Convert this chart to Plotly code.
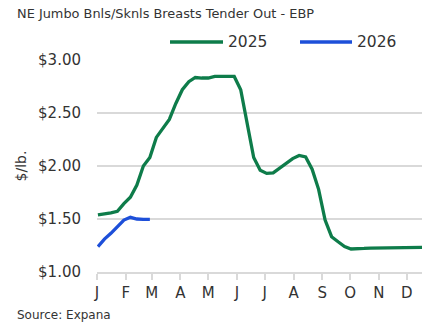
import plotly.graph_objects as go

# Weekly price observations (USD per lb), plotted on a common Jan–Dec calendar
weeks_2025 = [
    "2025-01-02", "2025-01-09", "2025-01-16", "2025-01-23", "2025-01-30",
    "2025-02-06", "2025-02-13", "2025-02-20", "2025-02-27", "2025-03-06",
    "2025-03-13", "2025-03-20", "2025-03-27", "2025-04-03", "2025-04-10",
    "2025-04-17", "2025-04-24", "2025-05-01", "2025-05-08", "2025-05-15",
    "2025-05-22", "2025-05-29", "2025-06-05", "2025-06-12", "2025-06-19",
    "2025-06-26", "2025-07-03", "2025-07-10", "2025-07-17", "2025-07-24",
    "2025-07-31", "2025-08-07", "2025-08-14", "2025-08-21", "2025-08-28",
    "2025-09-04", "2025-09-11", "2025-09-18", "2025-09-25", "2025-10-02",
    "2025-10-09", "2025-10-16", "2025-10-23", "2025-10-30", "2025-11-06",
    "2025-11-13", "2025-11-20", "2025-11-27", "2025-12-04", "2025-12-11",
    "2025-12-18",
]
price_2025 = [
    1.538, 1.546, 1.558, 1.572, 1.645, 1.705, 1.820, 2.000, 2.080, 2.270,
    2.350, 2.440, 2.590, 2.720, 2.795, 2.835, 2.830, 2.830, 2.845, 2.845,
    2.845, 2.845, 2.720, 2.410, 2.080, 1.960, 1.930, 1.935, 1.980, 2.020,
    2.070, 2.100, 2.085, 1.970, 1.780, 1.490, 1.333, 1.285, 1.240, 1.217,
    1.217, 1.222, 1.226, 1.226, 1.226, 1.226, 1.226, 1.230, 1.233, 1.233,
    1.233,
]

weeks_2026 = [
    "2025-01-02", "2025-01-09", "2025-01-16", "2025-01-23", "2025-01-30",
    "2025-02-06", "2025-02-13", "2025-02-20", "2025-02-27",
]
price_2026 = [1.239, 1.310, 1.365, 1.425, 1.490, 1.516, 1.500, 1.497, 1.497]

month_starts = [f"2025-{m:02d}-01" for m in range(1, 13)]
month_labels = ["J", "F", "M", "A", "M", "J", "J", "A", "S", "O", "N", "D"]
y_ticks = [1.0, 1.5, 2.0, 2.5, 3.0]
y_labels = ["$1.00", "$1.50", "$2.00", "$2.50", "$3.00"]

GREEN = "#0e7c4a"
BLUE = "#1d4fd9"
TEXT = "#333333"
GRID = "#d9d9d9"
FONT = "DejaVu Sans, sans-serif"

fig = go.Figure()
fig.add_trace(go.Scatter(x=weeks_2025, y=price_2025, mode="lines", name="2025",
                         line=dict(color=GREEN, width=3.3)))
fig.add_trace(go.Scatter(x=weeks_2026, y=price_2026, mode="lines", name="2026",
                         line=dict(color=BLUE, width=3.3)))

# Legend drawn as line samples with labels above the plot
for x0, x1, color, label in [(170, 223, GREEN, "2025"), (300, 352, BLUE, "2026")]:
    fig.add_shape(type="line", xref="paper", yref="paper",
                  x0=(x0 - 97) / 325, x1=(x1 - 97) / 325,
                  y0=(272 - 42) / 212, y1=(272 - 42) / 212,
                  line=dict(color=color, width=3.3))
    fig.add_annotation(text=label, xref="paper", yref="paper",
                       x=(x1 + 3 - 97) / 325, y=(272 - 42) / 212,
                       xanchor="left", yanchor="middle", showarrow=False,
                       font=dict(size=15.5, color=TEXT, family=FONT))

fig.add_annotation(text="NE Jumbo Bnls/Sknls Breasts Tender Out - EBP",
                   xref="paper", yref="paper", x=(15 - 97) / 325,
                   y=(272 - 14) / 212, xanchor="left", yanchor="middle",
                   showarrow=False, font=dict(size=12.9, color=TEXT, family=FONT))
fig.add_annotation(text="Source: Expana", xref="paper", yref="paper",
                   x=(15 - 97) / 325, y=(272 - 315) / 212,
                   xanchor="left", yanchor="middle", showarrow=False,
                   font=dict(size=12, color=TEXT, family=FONT))

fig.update_layout(
    width=425, height=327,
    margin=dict(l=97, r=3, t=60, b=55),
    paper_bgcolor="white", plot_bgcolor="white",
    showlegend=False,
    font=dict(family=FONT, color=TEXT),
    xaxis=dict(
        type="date", range=["2025-01-01", "2025-12-17 12:00"],
        tickvals=month_starts, ticktext=month_labels,
        showgrid=False, showline=True, linecolor=GRID, linewidth=1.5,
        ticks="outside", ticklen=6, tickcolor=GRID, tickwidth=1.5,
        tickfont=dict(size=15, color=TEXT), zeroline=False,
    ),
    yaxis=dict(
        range=[1.0, 3.0], tickvals=y_ticks, ticktext=y_labels,
        showgrid=True, gridcolor=GRID, gridwidth=1.5,
        zeroline=False, showline=False, ticks="",
        ticklabelstandoff=15,
        tickfont=dict(size=15, color=TEXT),
        title=dict(text="$/lb.", font=dict(size=14, color=TEXT), standoff=8),
    ),
)

fig.write_html("out.html")
